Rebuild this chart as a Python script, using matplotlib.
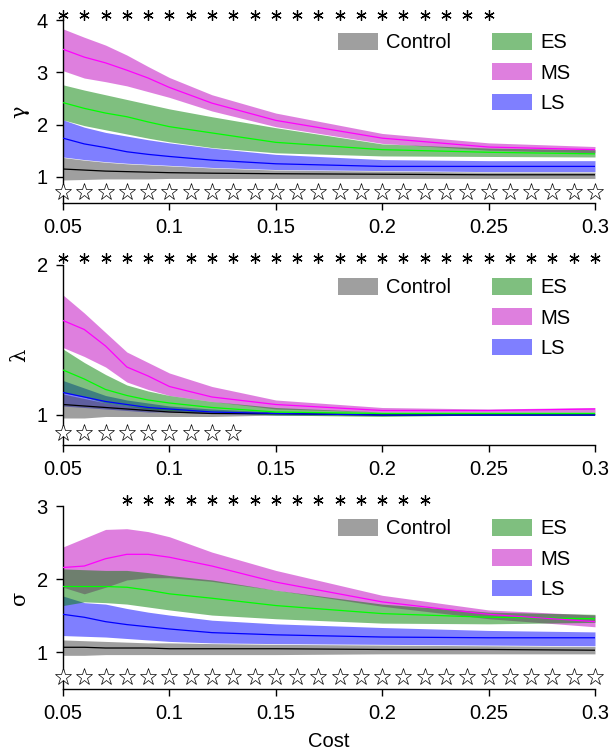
import numpy as np
import matplotlib
matplotlib.use('Agg')
import matplotlib.pyplot as plt
from matplotlib.patches import Patch, Rectangle

plt.rcParams['font.family'] = ['Liberation Sans', 'DejaVu Sans']

# cost grid used for the significance rows
cost = [0.05, 0.06, 0.07, 0.08, 0.09, 0.10, 0.11, 0.12, 0.13, 0.14, 0.15, 0.16, 0.17,
        0.18, 0.19, 0.20, 0.21, 0.22, 0.23, 0.24, 0.25, 0.26, 0.27, 0.28, 0.29, 0.30]
# costs at which the curves are sampled
knots = [0.05, 0.06, 0.07, 0.08, 0.09, 0.10, 0.12, 0.15, 0.20, 0.25, 0.30]

groups = ['Control', 'ES', 'MS', 'LS']

# gamma
g_ctrl = [1.15, 1.13, 1.11, 1.10, 1.09, 1.08, 1.07, 1.06, 1.05, 1.04, 1.04]
g_ctrl_lo = [0.94, 0.95, 0.96, 0.96, 0.96, 0.97, 0.97, 0.97, 0.97, 0.97, 0.97]
g_ctrl_hi = [1.37, 1.32, 1.28, 1.25, 1.23, 1.21, 1.17, 1.13, 1.11, 1.09, 1.09]
g_es = [2.42, 2.31, 2.22, 2.15, 2.05, 1.96, 1.84, 1.66, 1.52, 1.47, 1.44]
g_es_lo = [2.09, 1.98, 1.90, 1.82, 1.74, 1.67, 1.56, 1.46, 1.40, 1.39, 1.38]
g_es_hi = [2.76, 2.66, 2.57, 2.48, 2.39, 2.30, 2.15, 1.94, 1.63, 1.55, 1.52]
g_ms = [3.44, 3.29, 3.18, 3.04, 2.89, 2.71, 2.41, 2.08, 1.74, 1.57, 1.52]
g_ms_lo = [3.03, 2.89, 2.82, 2.74, 2.63, 2.52, 2.26, 1.96, 1.64, 1.51, 1.46]
g_ms_hi = [3.83, 3.67, 3.52, 3.33, 3.11, 2.90, 2.57, 2.22, 1.83, 1.65, 1.58]
g_ls = [1.74, 1.63, 1.56, 1.48, 1.43, 1.39, 1.32, 1.25, 1.20, 1.20, 1.20]
g_ls_lo = [1.38, 1.33, 1.29, 1.26, 1.24, 1.22, 1.18, 1.14, 1.12, 1.10, 1.10]
g_ls_hi = [2.09, 1.95, 1.85, 1.78, 1.71, 1.65, 1.55, 1.43, 1.33, 1.31, 1.31]

# lambda
l_ctrl = [1.07, 1.06, 1.05, 1.04, 1.03, 1.02, 1.01, 1.01, 1.00, 1.00, 1.00]
l_ctrl_lo = [0.98, 0.98, 0.99, 0.99, 0.99, 0.99, 0.99, 1.00, 1.00, 1.00, 1.00]
l_ctrl_hi = [1.14, 1.11, 1.08, 1.06, 1.05, 1.04, 1.02, 1.01, 1.00, 1.00, 1.00]
l_es = [1.30, 1.24, 1.17, 1.13, 1.10, 1.08, 1.05, 1.02, 1.01, 1.01, 1.01]
l_es_lo = [1.15, 1.12, 1.08, 1.06, 1.04, 1.03, 1.02, 1.00, 0.99, 1.00, 1.00]
l_es_hi = [1.44, 1.35, 1.27, 1.20, 1.16, 1.13, 1.09, 1.05, 1.02, 1.02, 1.02]
l_ms = [1.63, 1.57, 1.46, 1.32, 1.26, 1.19, 1.12, 1.07, 1.03, 1.03, 1.04]
l_ms_lo = [1.45, 1.39, 1.32, 1.22, 1.17, 1.13, 1.09, 1.04, 1.02, 1.02, 1.02]
l_ms_hi = [1.80, 1.68, 1.55, 1.42, 1.35, 1.28, 1.19, 1.10, 1.05, 1.04, 1.05]
l_ls = [1.15, 1.12, 1.09, 1.07, 1.05, 1.04, 1.02, 1.01, 1.00, 1.00, 1.00]
l_ls_lo = [1.06, 1.05, 1.04, 1.03, 1.02, 1.02, 1.01, 1.00, 1.00, 1.00, 1.00]
l_ls_hi = [1.23, 1.18, 1.13, 1.10, 1.08, 1.06, 1.04, 1.02, 1.01, 1.01, 1.01]

# sigma
s_ctrl = [1.07, 1.07, 1.06, 1.06, 1.06, 1.05, 1.05, 1.05, 1.04, 1.04, 1.03]
s_ctrl_lo = [0.96, 0.96, 0.97, 0.97, 0.97, 0.97, 0.97, 0.97, 0.98, 0.98, 0.98]
s_ctrl_hi = [1.17, 1.16, 1.15, 1.14, 1.13, 1.13, 1.12, 1.11, 1.10, 1.09, 1.08]
s_es = [1.90, 1.90, 1.90, 1.89, 1.85, 1.80, 1.74, 1.64, 1.53, 1.48, 1.46]
s_es_lo = [1.64, 1.69, 1.68, 1.66, 1.62, 1.58, 1.51, 1.46, 1.40, 1.39, 1.41]
s_es_hi = [2.14, 2.13, 2.12, 2.12, 2.09, 2.05, 1.99, 1.85, 1.66, 1.55, 1.52]
s_ms = [2.16, 2.18, 2.28, 2.34, 2.34, 2.30, 2.18, 1.96, 1.69, 1.52, 1.42]
s_ms_lo = [1.89, 1.80, 1.89, 1.99, 2.02, 2.02, 1.97, 1.85, 1.63, 1.46, 1.35]
s_ms_hi = [2.44, 2.56, 2.68, 2.69, 2.65, 2.58, 2.37, 2.12, 1.78, 1.58, 1.51]
s_ls = [1.52, 1.48, 1.42, 1.38, 1.35, 1.32, 1.27, 1.24, 1.21, 1.20, 1.20]
s_ls_lo = [1.23, 1.22, 1.21, 1.19, 1.17, 1.15, 1.13, 1.12, 1.11, 1.10, 1.09]
s_ls_hi = [1.77, 1.68, 1.66, 1.60, 1.55, 1.51, 1.44, 1.39, 1.34, 1.30, 1.28]

# significance marks: asterisk row on top, hollow star row at the bottom
g_ast, g_star = cost[:21], cost
l_ast, l_star = cost, cost[:9]
s_ast, s_star = cost[3:18], cost

fill_col = {'Control': (0.25, 0.25, 0.25), 'ES': (0.0, 0.5, 0.0),
            'MS': (0.75, 0.0, 0.75), 'LS': (0.0, 0.0, 1.0)}
line_col = {'Control': 'black', 'ES': '#00ff00', 'MS': '#ff00ff', 'LS': '#0000ff'}

panels = [
    dict(label='γ', ylim=(0.5, 4), yticks=[1, 2, 3, 4], ast_y=4.1, star_y=0.71,
         ast=g_ast, star=g_star,
         data={'Control': (g_ctrl, g_ctrl_lo, g_ctrl_hi), 'ES': (g_es, g_es_lo, g_es_hi),
               'MS': (g_ms, g_ms_lo, g_ms_hi), 'LS': (g_ls, g_ls_lo, g_ls_hi)}),
    dict(label='λ', ylim=(0.8, 2), yticks=[1, 2], ast_y=2.05, star_y=0.88,
         ast=l_ast, star=l_star,
         data={'Control': (l_ctrl, l_ctrl_lo, l_ctrl_hi), 'ES': (l_es, l_es_lo, l_es_hi),
               'MS': (l_ms, l_ms_lo, l_ms_hi), 'LS': (l_ls, l_ls_lo, l_ls_hi)}),
    dict(label='σ', ylim=(0.5, 3), yticks=[1, 2, 3], ast_y=3.08, star_y=0.66,
         ast=s_ast, star=s_star,
         data={'Control': (s_ctrl, s_ctrl_lo, s_ctrl_hi), 'ES': (s_es, s_es_lo, s_es_hi),
               'MS': (s_ms, s_ms_lo, s_ms_hi), 'LS': (s_ls, s_ls_lo, s_ls_hi)}),
]

W, H = 611, 754
fig = plt.figure(figsize=(W / 100, H / 100), dpi=100)
# axes boxes in pixels: (top, bottom)
boxes = [(20, 203), (265, 445), (506, 689)]
left, right = 63, 595
fs = 14.5

for p, (top, bot) in zip(panels, boxes):
    ax = fig.add_axes([left / W, 1 - bot / H, (right - left) / W, (bot - top) / H])
    # bands: ES last so its overlaps blend on top
    for g in ['MS', 'LS', 'Control', 'ES']:
        m, lo, hi = p['data'][g]
        ax.fill_between(knots, lo, hi, color=fill_col[g], alpha=0.5, linewidth=0, zorder=1)
    for g in ['Control', 'LS', 'ES', 'MS']:
        m, lo, hi = p['data'][g]
        ax.plot(knots, m, color=line_col[g], lw=0.9, zorder=3)

    ax.plot(p['ast'], [p['ast_y']] * len(p['ast']), ls='none', marker=(6, 2, 0),
            ms=7.5, mew=0.9, color='black', clip_on=False, zorder=4)
    ax.plot(p['star'], [p['star_y']] * len(p['star']), ls='none', marker='*',
            ms=12.5, mew=0.5, mfc='white', mec='black', clip_on=False, zorder=4)

    ax.set_xlim(0.05, 0.3)
    ax.set_ylim(*p['ylim'])
    ax.set_xticks([0.05, 0.1, 0.15, 0.2, 0.25, 0.3])
    ax.set_xticklabels(['0.05', '0.1', '0.15', '0.2', '0.25', '0.3'])
    ax.set_yticks(p['yticks'])
    ax.tick_params(direction='out', length=5, width=1, labelsize=fs, pad=6)
    for s in ['top', 'right']:
        ax.spines[s].set_visible(False)
    for s in ['left', 'bottom']:
        ax.spines[s].set_linewidth(1)

    # rotated greek label, centred beside the panel
    fig.text(20 / W, 1 - (top + bot) / 2 / H, p['label'], rotation=90,
             ha='center', va='center', fontsize=15, family=['DejaVu Serif'])

    blank = Rectangle((0, 0), 1, 1, visible=False)
    handles = [Patch(facecolor=fill_col['Control'], alpha=0.5), blank, blank,
               Patch(facecolor=fill_col['ES'], alpha=0.5),
               Patch(facecolor=fill_col['MS'], alpha=0.5),
               Patch(facecolor=fill_col['LS'], alpha=0.5)]
    labels = ['Control', '', '', 'ES', 'MS', 'LS']
    y_top = (bot - (top + 13)) / (bot - top)
    ax.legend(handles, labels, ncol=2, loc='upper left', bbox_to_anchor=(0.517, y_top),
              frameon=False, fontsize=fs, borderpad=0, borderaxespad=0,
              handlelength=2.0, handleheight=0.9, handletextpad=0.4,
              columnspacing=2.0, labelspacing=0.55)

    if top == 506:
        ax.set_xlabel('Cost', fontsize=fs, labelpad=6)

fig.savefig('out.png', dpi=100)
